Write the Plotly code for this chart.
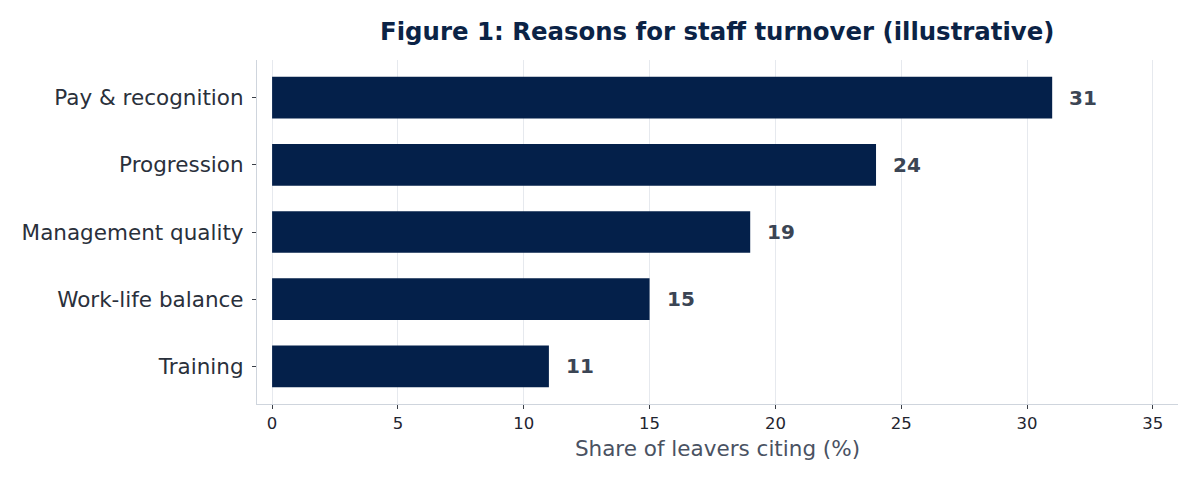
import plotly.graph_objects as go

# ── Data ──────────────────────────────────────────────────────────────────────
reasons = ["Training", "Work-life balance", "Management quality",
           "Progression", "Pay & recognition"]
share_pct = [11, 15, 19, 24, 31]
x_ticks = [0, 5, 10, 15, 20, 25, 30, 35]

NAVY = "#04204a"
GRID = "#e6e9ee"
SPINE = "#cfd5dd"
TICK = "#3a3f47"

fig = go.Figure()
fig.add_trace(go.Bar(
    x=share_pct, y=reasons, orientation="h",
    marker=dict(color=NAVY, line=dict(width=0)),
    width=0.62,
    hoverinfo="skip",
))

# value labels to the right of each bar
for r, v in zip(reasons, share_pct):
    fig.add_annotation(
        x=v, y=r, text=f"<b>{v}</b>", showarrow=False,
        xanchor="left", xshift=15,
        font=dict(family="DejaVu Sans", size=20, color="#3b4554"),
    )

fig.update_layout(
    width=1196, height=481,
    margin=dict(l=249, r=26, t=52, b=85),
    paper_bgcolor="white", plot_bgcolor="white",
    showlegend=False,
    font=dict(family="DejaVu Sans"),
    title=dict(
        text="<b>Figure 1: Reasons for staff turnover (illustrative)</b>",
        x=0.593, xanchor="center", y=0.952, yanchor="middle",
        font=dict(family="DejaVu Sans", size=24.4, color="#0b2346"),
    ),
)

fig.update_xaxes(
    range=[-0.6, 36.0], tickvals=x_ticks,
    showgrid=True, gridcolor=GRID, gridwidth=1,
    zeroline=False,
    showline=True, linecolor=SPINE, linewidth=1.2,
    ticks="outside", ticklen=4, tickcolor=TICK,
    tickfont=dict(size=16.5, color="#1f2530"),
    title=dict(text="Share of leavers citing (%)", standoff=9,
               font=dict(size=21.5, color="#4a5262")),
)
fig.update_yaxes(
    range=[-0.56, 4.56],
    showgrid=False,
    showline=True, linecolor=SPINE, linewidth=1.2,
    ticks="outside", ticklen=4, tickcolor=TICK,
    ticklabelstandoff=4,
    tickfont=dict(size=21.5, color="#2a303b"),
)

fig.write_html("out.html")
